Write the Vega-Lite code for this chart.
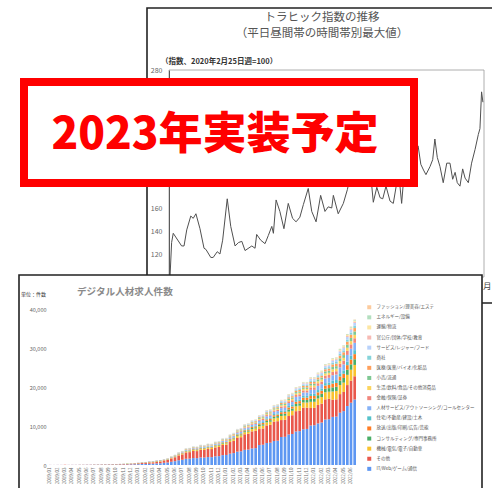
{
"$schema": "https://vega.github.io/schema/vega-lite/v6.json",
"width": 492, "height": 488,
"autosize": {"type": "none"},
"padding": 0,
"background": "#ffffff",
"config": {"view": {"stroke": null}, "font": "Noto Sans CJK JP"},
"datasets": {
"traffic": [
{"w":0,"v":100},{"w":0.6,"v":130},{"w":1.2,"v":138},{"w":4.3,"v":127},{"w":5.2,"v":127},{"w":6.2,"v":141},{"w":7.7,"v":153},{"w":8.6,"v":151},{"w":9.6,"v":155},{"w":11.1,"v":142},{"w":12.6,"v":125},{"w":13.3,"v":124},{"w":15.1,"v":117},{"w":16.0,"v":117},{"w":17.5,"v":122},{"w":18.5,"v":120},{"w":19.5,"v":132},{"w":21.2,"v":168},{"w":22.5,"v":144},{"w":24.1,"v":127},{"w":25.4,"v":130},{"w":26.6,"v":131},{"w":27.8,"v":123},{"w":30.3,"v":127},{"w":31.5,"v":125},{"w":32.1,"v":137},{"w":33.6,"v":132},{"w":35.2,"v":129},{"w":36.4,"v":136},{"w":37.7,"v":144},{"w":38.3,"v":138},{"w":39.3,"v":167},{"w":40.7,"v":157},{"w":42.2,"v":142},{"w":43.8,"v":164},{"w":45.4,"v":151},{"w":46.7,"v":148},{"w":48.1,"v":152},{"w":49.4,"v":163},{"w":51.2,"v":177},{"w":52.5,"v":157},{"w":54.1,"v":148},{"w":55.8,"v":171},{"w":57.4,"v":157},{"w":58.6,"v":161},{"w":59.9,"v":160},{"w":60.5,"v":171},{"w":62.3,"v":155},{"w":64.2,"v":164},{"w":65.7,"v":176},{"w":67.0,"v":190},{"w":68.5,"v":198},{"w":70.0,"v":188},{"w":71.5,"v":200},{"w":73.0,"v":192},{"w":74.7,"v":180},{"w":75.3,"v":165},{"w":76.6,"v":178},{"w":77.8,"v":169},{"w":78.8,"v":168},{"w":80.0,"v":179},{"w":81.5,"v":166},{"w":82.7,"v":164},{"w":84.0,"v":182},{"w":84.8,"v":188},{"w":85.8,"v":164},{"w":86.7,"v":190},{"w":88.1,"v":200},{"w":89.6,"v":195},{"w":90.7,"v":210},{"w":91.9,"v":214},{"w":92.9,"v":198},{"w":93.9,"v":193},{"w":94.8,"v":189},{"w":96.3,"v":196},{"w":97.3,"v":202},{"w":98.1,"v":220},{"w":99.0,"v":204},{"w":100.0,"v":196},{"w":101.2,"v":182},{"w":102.5,"v":199},{"w":103.7,"v":199},{"w":104.7,"v":185},{"w":105.6,"v":191},{"w":106.4,"v":182},{"w":107.4,"v":179},{"w":108.4,"v":194},{"w":109.3,"v":186},{"w":110.5,"v":182},{"w":111.7,"v":199},{"w":113.0,"v":211},{"w":114.2,"v":224},{"w":114.8,"v":229},{"w":115.4,"v":261},{"w":115.9,"v":252}
],
"cats": [
{"k":"a","name":"IT/Web/ゲーム/通信"},{"k":"b","name":"その他"},{"k":"c","name":"機械/電気/電子/自動車"},{"k":"d","name":"コンサルティング/専門事務所"},{"k":"e","name":"放送/出版/印刷/広告/芸能"},{"k":"f","name":"住宅/不動産/建設/土木"},{"k":"g","name":"人材サービス/アウトソーシング/コールセンター"},{"k":"h","name":"金融/保険/証券"},{"k":"i","name":"生活/飲料/食品/その他消費品"},{"k":"j","name":"小売/流通"},{"k":"k","name":"医療/医薬/バイオ/化粧品"},{"k":"l","name":"商社"},{"k":"m","name":"サービス/レジャー/フード"},{"k":"n","name":"官公庁/団体/学校/教育"},{"k":"o","name":"運輸/物流"},{"k":"p","name":"エネルギー/設備"},{"k":"q","name":"ファッション/理美容/エステ"}
],
"jobs": [
{"t":"2019/01","a":14,"b":14,"c":4,"d":2,"e":3,"g":3},
{"t":"2019/01b","a":12,"b":12,"c":4,"d":2,"e":2,"g":3},
{"t":"2019/02","a":18,"b":17,"c":5,"d":3,"e":3,"g":4},
{"t":"2019/02b","a":16,"b":16,"c":4,"d":3,"e":2,"g":4},
{"t":"2019/03","a":21,"b":21,"c":6,"d":4,"e":3,"g":5},
{"t":"2019/03b","a":19,"b":19,"c":6,"d":3,"e":4,"g":4},
{"t":"2019/04","a":25,"b":24,"c":7,"d":4,"e":4,"g":6},
{"t":"2019/04b","a":26,"b":26,"c":8,"d":5,"e":4,"g":6},
{"t":"2019/05","a":35,"b":35,"c":10,"d":6,"e":6,"g":8},
{"t":"2019/05b","a":37,"b":37,"c":10,"d":6,"e":7,"g":8},
{"t":"2019/06","a":46,"b":45,"c":13,"d":8,"e":8,"g":10},
{"t":"2019/06b","a":44,"b":44,"c":12,"d":8,"e":7,"g":10},
{"t":"2019/07","a":52,"b":53,"c":15,"d":9,"e":9,"g":12},
{"t":"2019/07b","a":58,"b":58,"c":16,"d":10,"e":10,"g":13},
{"t":"2019/08","a":65,"b":65,"c":18,"d":11,"e":11,"g":15},
{"t":"2019/08b","a":70,"b":70,"c":20,"d":12,"e":12,"g":16},
{"t":"2019/09","a":75,"b":75,"c":22,"d":13,"e":13,"g":17},
{"t":"2019/09b","a":86,"b":86,"c":24,"d":15,"e":14,"g":20},
{"t":"2019/10","a":89,"b":89,"c":26,"d":15,"e":16,"g":20},
{"t":"2019/10b","a":105,"b":105,"c":30,"d":18,"e":18,"g":24},
{"t":"2019/11","a":119,"b":119,"c":34,"d":20,"e":21,"g":27},
{"t":"2019/11b","a":144,"b":143,"c":41,"d":25,"e":24,"g":33},
{"t":"2019/12","a":154,"b":154,"c":44,"d":26,"e":27,"g":35},
{"t":"2019/12b","a":179,"b":178,"c":51,"d":31,"e":30,"g":41},
{"t":"2020/01","a":207,"b":206,"c":59,"d":35,"e":36,"g":47},
{"t":"2020/01b","a":252,"b":252,"c":72,"d":43,"e":43,"g":58},
{"t":"2020/02","a":273,"b":273,"c":78,"d":47,"e":47,"g":62},
{"t":"2020/02b","a":322,"b":322,"c":92,"d":55,"e":55,"g":74},
{"t":"2020/03","a":343,"b":343,"c":98,"d":59,"e":59,"g":78},
{"t":"2020/03b","a":410,"b":409,"c":117,"d":70,"e":70,"g":94},
{"t":"2020/04","a":448,"b":448,"c":128,"d":77,"e":77,"g":102},
{"t":"2020/04b","a":566,"b":581,"c":77,"d":38,"e":34,"f":27,"g":50,"h":31,"i":23,"j":23,"k":23,"l":15,"m":19,"n":8,"o":8,"p":6,"q":2},
{"t":"2020/05","a":651,"b":669,"c":88,"d":44,"e":40,"f":31,"g":57,"h":35,"i":26,"j":26,"k":26,"l":18,"m":22,"n":9,"o":9,"p":7,"q":2},
{"t":"2020/05b","a":833,"b":855,"c":113,"d":56,"e":51,"f":39,"g":73,"h":45,"i":34,"j":34,"k":34,"l":23,"m":28,"n":11,"o":11,"p":8,"q":3},
{"t":"2020/06","a":981,"b":1007,"c":133,"d":66,"e":60,"f":46,"g":86,"h":53,"i":40,"j":40,"k":40,"l":27,"m":33,"n":13,"o":13,"p":10,"q":3},
{"t":"2020/06b","a":1214,"b":1246,"c":164,"d":82,"e":74,"f":57,"g":107,"h":66,"i":49,"j":49,"k":49,"l":33,"m":41,"n":16,"o":16,"p":12,"q":4},
{"t":"2020/07","a":1339,"b":1376,"c":181,"d":91,"e":81,"f":63,"g":118,"h":72,"i":54,"j":54,"k":54,"l":36,"m":45,"n":18,"o":18,"p":14,"q":5},
{"t":"2020/07b","a":1591,"b":1634,"c":215,"d":108,"e":97,"f":75,"g":140,"h":86,"i":65,"j":65,"k":65,"l":43,"m":54,"n":22,"o":22,"p":16,"q":5},
{"t":"2020/08","a":1628,"b":1672,"c":220,"d":110,"e":99,"f":77,"g":143,"h":88,"i":66,"j":66,"k":66,"l":44,"m":55,"n":22,"o":22,"p":17,"q":6},
{"t":"2020/08b","a":1776,"b":1824,"c":240,"d":120,"e":108,"f":84,"g":156,"h":96,"i":72,"j":72,"k":72,"l":48,"m":60,"n":24,"o":24,"p":18,"q":6},
{"t":"2020/09","a":1758,"b":1805,"c":238,"d":119,"e":107,"f":83,"g":154,"h":95,"i":71,"j":71,"k":71,"l":48,"m":59,"n":24,"o":24,"p":18,"q":6},
{"t":"2020/09b","a":1924,"b":1976,"c":260,"d":130,"e":117,"f":91,"g":169,"h":104,"i":78,"j":78,"k":78,"l":52,"m":65,"n":26,"o":26,"p":20,"q":7},
{"t":"2020/10","a":1906,"b":1957,"c":258,"d":129,"e":116,"f":90,"g":167,"h":103,"i":77,"j":77,"k":77,"l":52,"m":64,"n":26,"o":26,"p":19,"q":6},
{"t":"2020/10b","a":2035,"b":2090,"c":275,"d":138,"e":124,"f":96,"g":179,"h":110,"i":83,"j":83,"k":83,"l":55,"m":69,"n":28,"o":28,"p":21,"q":7},
{"t":"2020/11","a":2017,"b":2071,"c":273,"d":136,"e":123,"f":95,"g":177,"h":109,"i":82,"j":82,"k":82,"l":55,"m":68,"n":27,"o":27,"p":20,"q":7},
{"t":"2020/11b","a":2220,"b":2280,"c":300,"d":150,"e":135,"f":105,"g":195,"h":120,"i":90,"j":90,"k":90,"l":60,"m":75,"n":30,"o":30,"p":23,"q":8},
{"t":"2020/12","a":2276,"b":2337,"c":308,"d":154,"e":138,"f":108,"g":200,"h":123,"i":92,"j":92,"k":92,"l":62,"m":77,"n":31,"o":31,"p":23,"q":8},
{"t":"2020/12b","a":2535,"b":2603,"c":343,"d":171,"e":154,"f":120,"g":223,"h":137,"i":103,"j":103,"k":103,"l":69,"m":86,"n":34,"o":34,"p":26,"q":9},
{"t":"2021/01","a":2572,"b":2641,"c":348,"d":174,"e":156,"f":122,"g":226,"h":139,"i":104,"j":104,"k":104,"l":70,"m":87,"n":35,"o":35,"p":26,"q":9},
{"t":"2021/01b","a":2905,"b":2983,"c":393,"d":196,"e":177,"f":137,"g":255,"h":157,"i":118,"j":118,"k":118,"l":79,"m":98,"n":39,"o":39,"p":29,"q":10},
{"t":"2021/02","a":3053,"b":3135,"c":413,"d":206,"e":186,"f":144,"g":268,"h":165,"i":124,"j":124,"k":124,"l":83,"m":103,"n":41,"o":41,"p":31,"q":10},
{"t":"2021/02b","a":3423,"b":3515,"c":463,"d":231,"e":208,"f":162,"g":301,"h":185,"i":139,"j":139,"k":139,"l":93,"m":116,"n":46,"o":46,"p":35,"q":12},
{"t":"2021/03","a":3515,"b":3610,"c":475,"d":238,"e":214,"f":166,"g":309,"h":190,"i":143,"j":143,"k":143,"l":95,"m":119,"n":48,"o":48,"p":36,"q":12},
{"t":"2021/03b","a":3885,"b":3990,"c":525,"d":263,"e":236,"f":184,"g":341,"h":210,"i":158,"j":158,"k":158,"l":105,"m":131,"n":53,"o":53,"p":39,"q":13},
{"t":"2021/04","a":3959,"b":4066,"c":535,"d":268,"e":241,"f":187,"g":348,"h":214,"i":161,"j":161,"k":161,"l":107,"m":134,"n":54,"o":54,"p":40,"q":13},
{"t":"2021/04b","a":4255,"b":4370,"c":575,"d":288,"e":259,"f":201,"g":374,"h":230,"i":173,"j":173,"k":173,"l":115,"m":144,"n":58,"o":58,"p":43,"q":14},
{"t":"2021/05","a":4329,"b":4446,"c":585,"d":293,"e":263,"f":205,"g":380,"h":234,"i":176,"j":176,"k":176,"l":117,"m":146,"n":59,"o":59,"p":44,"q":15},
{"t":"2021/05b","a":5120,"b":4096,"c":717,"d":358,"e":323,"f":251,"g":466,"h":287,"i":215,"j":215,"k":215,"l":143,"m":179,"n":72,"o":72,"p":54,"q":18},
{"t":"2021/06","a":5200,"b":4160,"c":728,"d":364,"e":328,"f":255,"g":473,"h":291,"i":218,"j":218,"k":218,"l":146,"m":182,"n":73,"o":73,"p":55,"q":18},
{"t":"2021/06b","a":5640,"b":4512,"c":790,"d":395,"e":355,"f":276,"g":513,"h":316,"i":237,"j":237,"k":237,"l":158,"m":197,"n":79,"o":79,"p":59,"q":20},
{"t":"2021/07","a":5720,"b":4576,"c":801,"d":400,"e":360,"f":280,"g":521,"h":320,"i":240,"j":240,"k":240,"l":160,"m":200,"n":80,"o":80,"p":60,"q":20},
{"t":"2021/07b","a":6160,"b":4928,"c":862,"d":431,"e":388,"f":302,"g":561,"h":345,"i":259,"j":259,"k":259,"l":172,"m":216,"n":86,"o":86,"p":65,"q":22},
{"t":"2021/08","a":6240,"b":4992,"c":874,"d":437,"e":393,"f":306,"g":568,"h":349,"i":262,"j":262,"k":262,"l":175,"m":218,"n":87,"o":87,"p":66,"q":22},
{"t":"2021/08b","a":7181,"b":4342,"c":1035,"d":518,"e":466,"f":362,"g":673,"h":414,"i":311,"j":311,"k":311,"l":207,"m":259,"n":104,"o":104,"p":78,"q":26},
{"t":"2021/09","a":7224,"b":4368,"c":1042,"d":521,"e":469,"f":365,"g":677,"h":417,"i":312,"j":312,"k":312,"l":208,"m":260,"n":104,"o":104,"p":78,"q":26},
{"t":"2021/09b","a":7826,"b":4732,"c":1128,"d":564,"e":508,"f":395,"g":733,"h":451,"i":339,"j":339,"k":339,"l":226,"m":282,"n":113,"o":113,"p":85,"q":28},
{"t":"2021/10","a":7955,"b":4810,"c":1147,"d":574,"e":516,"f":401,"g":746,"h":459,"i":344,"j":344,"k":344,"l":229,"m":287,"n":115,"o":115,"p":86,"q":29},
{"t":"2021/10b","a":8600,"b":5200,"c":1240,"d":620,"e":558,"f":434,"g":806,"h":496,"i":372,"j":372,"k":372,"l":248,"m":310,"n":124,"o":124,"p":93,"q":31},
{"t":"2021/11","a":8686,"b":5252,"c":1252,"d":626,"e":564,"f":438,"g":814,"h":501,"i":376,"j":376,"k":376,"l":250,"m":313,"n":125,"o":125,"p":94,"q":31},
{"t":"2021/11b","a":9159,"b":5538,"c":1321,"d":660,"e":594,"f":462,"g":858,"h":528,"i":396,"j":396,"k":396,"l":264,"m":330,"n":132,"o":132,"p":99,"q":33},
{"t":"2021/12","a":9250,"b":5450,"c":1310,"d":670,"e":590,"f":470,"g":850,"h":520,"i":400,"j":390,"k":400,"l":260,"m":335,"n":130,"o":135,"p":100,"q":35},
{"t":"2021/12b","a":10125,"b":4500,"c":1575,"d":788,"e":709,"f":551,"g":1024,"h":630,"i":473,"j":473,"k":473,"l":315,"m":394,"n":158,"o":158,"p":118,"q":39},
{"t":"2022/01","a":10200,"b":4450,"c":1560,"d":790,"e":700,"f":560,"g":1010,"h":640,"i":470,"j":470,"k":480,"l":310,"m":390,"n":160,"o":160,"p":120,"q":40},
{"t":"2022/01b","a":10665,"b":4740,"c":1659,"d":830,"e":747,"f":581,"g":1078,"h":664,"i":498,"j":498,"k":498,"l":332,"m":415,"n":166,"o":166,"p":124,"q":41},
{"t":"2022/02","a":10890,"b":4840,"c":1694,"d":847,"e":762,"f":593,"g":1101,"h":678,"i":508,"j":508,"k":508,"l":339,"m":424,"n":169,"o":169,"p":127,"q":42},
{"t":"2022/02b","a":11655,"b":5180,"c":1813,"d":907,"e":816,"f":635,"g":1178,"h":725,"i":544,"j":544,"k":544,"l":363,"m":453,"n":181,"o":181,"p":136,"q":45},
{"t":"2022/03","a":11745,"b":5220,"c":1827,"d":914,"e":822,"f":639,"g":1188,"h":731,"i":548,"j":548,"k":548,"l":365,"m":457,"n":183,"o":183,"p":137,"q":46},
{"t":"2022/03b","a":12330,"b":4384,"c":2137,"d":1069,"e":962,"f":748,"g":1389,"h":855,"i":641,"j":641,"k":641,"l":427,"m":534,"n":214,"o":214,"p":160,"q":53},
{"t":"2022/04","a":12420,"b":4416,"c":2153,"d":1076,"e":969,"f":753,"g":1399,"h":861,"i":646,"j":646,"k":646,"l":431,"m":538,"n":215,"o":215,"p":161,"q":54},
{"t":"2022/04b","a":13410,"b":4768,"c":2324,"d":1162,"e":1046,"f":814,"g":1511,"h":930,"i":697,"j":697,"k":697,"l":465,"m":581,"n":232,"o":232,"p":174,"q":58},
{"t":"2022/05","a":13815,"b":4912,"c":2395,"d":1197,"e":1078,"f":838,"g":1556,"h":958,"i":718,"j":718,"k":718,"l":479,"m":599,"n":239,"o":239,"p":180,"q":60},
{"t":"2022/05b","a":15120,"b":5376,"c":2621,"d":1310,"e":1179,"f":917,"g":1704,"h":1048,"i":786,"j":786,"k":786,"l":524,"m":655,"n":262,"o":262,"p":197,"q":66},
{"t":"2022/06","a":15975,"b":5680,"c":2769,"d":1385,"e":1246,"f":969,"g":1800,"h":1108,"i":831,"j":831,"k":831,"l":554,"m":692,"n":277,"o":277,"p":208,"q":69},
{"t":"2022/06b","a":16785,"b":5968,"c":2909,"d":1455,"e":1309,"f":1018,"g":1891,"h":1164,"i":873,"j":873,"k":873,"l":582,"m":727,"n":291,"o":291,"p":218,"q":73}
]
},
"layer": [
{
"data": {"values": [{}]},
"layer": [
{"mark": {"type": "rect", "fill": "transparent", "stroke": "#222222", "strokeWidth": 1.6},
 "encoding": {
  "x": {"datum": 147, "type": "quantitative", "scale": {"domain": [0, 492], "range": [0, 492], "nice": false, "zero": false}, "axis": null},
  "x2": {"datum": 530},
  "y": {"datum": 8, "type": "quantitative", "scale": {"domain": [0, 488], "range": [0, 488], "nice": false, "zero": false}, "axis": null},
  "y2": {"datum": 303}}},
{"mark": {"type": "rect", "fill": "transparent", "stroke": "#9a9a9a", "strokeWidth": 0.8},
 "encoding": {
  "x": {"datum": 169, "type": "quantitative", "scale": {"domain": [0, 492], "range": [0, 492], "nice": false, "zero": false}, "axis": null},
  "x2": {"datum": 484},
  "y": {"datum": 70, "type": "quantitative", "scale": {"domain": [0, 488], "range": [0, 488], "nice": false, "zero": false}, "axis": null},
  "y2": {"datum": 277}}},
{"mark": {"type": "text", "text": "トラヒック指数の推移", "fontSize": 11.5, "color": "#555555", "align": "center", "baseline": "middle"},
 "encoding": {
  "x": {"datum": 322, "type": "quantitative", "scale": {"domain": [0, 492], "range": [0, 492], "nice": false, "zero": false}, "axis": null},
  "y": {"datum": 18, "type": "quantitative", "scale": {"domain": [0, 488], "range": [0, 488], "nice": false, "zero": false}, "axis": null}}},
{"mark": {"type": "text", "text": "（平日昼間帯の時間帯別最大値）", "fontSize": 11.5, "color": "#555555", "align": "center", "baseline": "middle"},
 "encoding": {
  "x": {"datum": 322, "type": "quantitative", "scale": {"domain": [0, 492], "range": [0, 492], "nice": false, "zero": false}, "axis": null},
  "y": {"datum": 34, "type": "quantitative", "scale": {"domain": [0, 488], "range": [0, 488], "nice": false, "zero": false}, "axis": null}}},
{"mark": {"type": "text", "text": "（指数、2020年2月25日週=100）", "fontSize": 7.5, "fontWeight": "bold", "color": "#333333", "align": "left", "baseline": "middle"},
 "encoding": {
  "x": {"datum": 161, "type": "quantitative", "scale": {"domain": [0, 492], "range": [0, 492], "nice": false, "zero": false}, "axis": null},
  "y": {"datum": 61.5, "type": "quantitative", "scale": {"domain": [0, 488], "range": [0, 488], "nice": false, "zero": false}, "axis": null}}},
{"mark": {"type": "text", "text": "月", "fontSize": 8.5, "color": "#444444", "align": "left", "baseline": "middle"},
 "encoding": {
  "x": {"datum": 483, "type": "quantitative", "scale": {"domain": [0, 492], "range": [0, 492], "nice": false, "zero": false}, "axis": null},
  "y": {"datum": 286, "type": "quantitative", "scale": {"domain": [0, 488], "range": [0, 488], "nice": false, "zero": false}, "axis": null}}}
]
},
{
"data": {"name": "traffic"},
"mark": {"type": "line", "color": "#505050", "strokeWidth": 1},
"encoding": {
 "x": {"field": "w", "type": "quantitative", "scale": {"domain": [0, 116.3], "range": [170, 484], "nice": false, "zero": false}, "axis": null},
 "y": {"field": "v", "type": "quantitative", "scale": {"domain": [100, 280], "range": [277, 70], "nice": false, "zero": false},
  "axis": {"orient": "left", "offset": -169, "values": [120, 140, 160, 280], "ticks": false, "grid": false, "domain": true, "domainColor": "#333333", "domainWidth": 1, "labelPadding": 7, "labelFontSize": 7, "labelColor": "#666666", "title": null, "labelOverlap": false, "zindex": 0}}
}
},
{
"data": {"values": [{}]},
"layer": [
{"mark": {"type": "rect", "fill": "#ffffff", "stroke": "#222222", "strokeWidth": 1.6},
 "encoding": {
  "x": {"datum": 19, "type": "quantitative", "scale": {"domain": [0, 492], "range": [0, 492], "nice": false, "zero": false}, "axis": null},
  "x2": {"datum": 482},
  "y": {"datum": 275, "type": "quantitative", "scale": {"domain": [0, 488], "range": [0, 488], "nice": false, "zero": false}, "axis": null},
  "y2": {"datum": 530}}},
{"mark": {"type": "text", "text": "デジタル人材求人件数", "fontSize": 9.6, "fontWeight": "bold", "color": "#8a8a8a", "align": "left", "baseline": "middle"},
 "encoding": {
  "x": {"datum": 77, "type": "quantitative", "scale": {"domain": [0, 492], "range": [0, 492], "nice": false, "zero": false}, "axis": null},
  "y": {"datum": 292, "type": "quantitative", "scale": {"domain": [0, 488], "range": [0, 488], "nice": false, "zero": false}, "axis": null}}},
{"mark": {"type": "text", "text": "単位：件数", "fontSize": 5, "color": "#333333", "align": "left", "baseline": "middle"},
 "encoding": {
  "x": {"datum": 21, "type": "quantitative", "scale": {"domain": [0, 492], "range": [0, 492], "nice": false, "zero": false}, "axis": null},
  "y": {"datum": 294, "type": "quantitative", "scale": {"domain": [0, 488], "range": [0, 488], "nice": false, "zero": false}, "axis": null}}}
]
},
{
"data": {"name": "jobs"},
"transform": [
 {"fold": ["a","b","c","d","e","f","g","h","i","j","k","l","m","n","o","p","q"], "as": ["key", "n"]},
 {"filter": "isValid(datum.n)"},
 {"lookup": "key", "from": {"data": {"name": "cats"}, "key": "k", "fields": ["name"]}}
],
"mark": {"type": "bar"},
"encoding": {
 "x": {"field": "t", "type": "ordinal", "scale": {"range": [49, 356], "paddingInner": 0.28, "paddingOuter": 0},
  "axis": {"orient": "bottom", "offset": -23, "values": ["2019/01","2019/02","2019/03","2019/04","2019/05","2019/06","2019/07","2019/08","2019/09","2019/10","2019/11","2019/12","2020/01","2020/02","2020/03","2020/04","2020/05","2020/06","2020/07","2020/08","2020/09","2020/10","2020/11","2020/12","2021/01","2021/02","2021/03","2021/04","2021/05","2021/06","2021/07","2021/08","2021/09","2021/10","2021/11","2021/12","2022/01","2022/02","2022/03","2022/04","2022/05","2022/06"],
   "labelAngle": 270, "labelAlign": "right", "labelBaseline": "middle", "labelFontSize": 4.5, "labelColor": "#666666", "labelPadding": 2, "ticks": false, "domain": false, "grid": false, "title": null, "labelOverlap": false, "zindex": 1}},
 "y": {"field": "n", "type": "quantitative", "stack": "zero", "scale": {"domain": [0, 40000], "range": [465, 309], "nice": false},
  "axis": {"orient": "left", "offset": -49, "values": [0, 10000, 20000, 30000, 40000], "format": ",.0f", "ticks": false, "domain": false, "grid": false, "labelPadding": 3, "labelFontSize": 5.5, "labelColor": "#666666", "title": null, "labelOverlap": false, "zindex": 1}},
 "color": {"field": "name", "type": "nominal",
  "scale": {"domain": ["ファッション/理美容/エステ","エネルギー/設備","運輸/物流","官公庁/団体/学校/教育","サービス/レジャー/フード","商社","医療/医薬/バイオ/化粧品","小売/流通","生活/飲料/食品/その他消費品","金融/保険/証券","人材サービス/アウトソーシング/コールセンター","住宅/不動産/建設/土木","放送/出版/印刷/広告/芸能","コンサルティング/専門事務所","機械/電気/電子/自動車","その他","IT/Web/ゲーム/通信"],
   "range": ["#fccb9e","#b3dfbf","#fde6a3","#f7bab4","#b8d2fb","#86d4da","#ffa05c","#7fc893","#fcd45e","#f1867d","#86b2f7","#55c2ca","#ff7d24","#4aae66","#f9c22e","#e9584c","#5e97f2"]},
  "legend": {"orient": "none", "legendX": 367, "legendY": 305, "direction": "vertical", "title": null, "symbolType": "square", "symbolSize": 16, "symbolStrokeWidth": 0, "labelFontSize": 4.5, "labelColor": "#555555", "rowPadding": 4.1, "labelOffset": 5, "padding": 0, "labelLimit": 200}},
 "order": {"field": "key", "type": "ordinal", "sort": "ascending"}
}
},
{
"data": {"values": [{}]},
"layer": [
{"mark": {"type": "rect", "fill": "#ffffff", "stroke": "#ff0000", "strokeWidth": 8},
 "encoding": {
  "x": {"datum": 24, "type": "quantitative", "scale": {"domain": [0, 492], "range": [0, 492], "nice": false, "zero": false}, "axis": null},
  "x2": {"datum": 414},
  "y": {"datum": 82, "type": "quantitative", "scale": {"domain": [0, 488], "range": [0, 488], "nice": false, "zero": false}, "axis": null},
  "y2": {"datum": 183}}},
{"mark": {"type": "text", "text": "2023年実装予定", "fontSize": 44, "fontWeight": 900, "color": "#ff0000", "align": "center", "baseline": "middle"},
 "encoding": {
  "x": {"datum": 215, "type": "quantitative", "scale": {"domain": [0, 492], "range": [0, 492], "nice": false, "zero": false}, "axis": null},
  "y": {"datum": 136, "type": "quantitative", "scale": {"domain": [0, 488], "range": [0, 488], "nice": false, "zero": false}, "axis": null}}}
]
}
],
"resolve": {"scale": {"x": "independent", "y": "independent", "color": "independent"}}
}
